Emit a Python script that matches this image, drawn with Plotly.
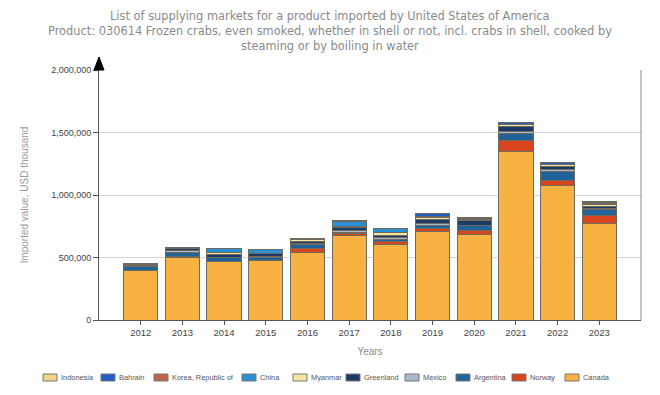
import plotly.graph_objects as go

years = [2012, 2013, 2014, 2015, 2016, 2017, 2018, 2019, 2020, 2021, 2022, 2023]

# Imported value, USD thousand
canada    = [396000, 503000, 468000, 476000, 542000, 674000, 607000, 709000, 688000, 1351000, 1075000, 776000]
norway    = [3000, 2000, 2000, 2000, 32000, 16000, 21000, 27000, 27000, 88000, 40000, 61000]
argentina = [32000, 37000, 27000, 25000, 32000, 14000, 16000, 21000, 40000, 54000, 72000, 48000]
mexico    = [2000, 16000, 3000, 2000, 8000, 13000, 19000, 19000, 5000, 16000, 16000, 10000]
greenland = [15000, 16000, 21000, 28000, 16000, 21000, 16000, 27000, 35000, 40000, 24000, 16000]
myanmar   = [0, 1000, 16000, 1000, 12000, 11000, 19000, 19000, 11000, 12000, 16000, 16000]
china     = [1000, 2000, 32000, 34000, 3000, 40000, 35000, 3000, 3000, 3000, 3000, 3000]
korea     = [0, 0, 0, 0, 1000, 1000, 1000, 1000, 1000, 1000, 1000, 1000]
bahrain   = [1000, 0, 0, 0, 8000, 2000, 0, 24000, 13000, 17000, 13000, 13000]
indonesia = [0, 0, 0, 0, 1000, 1000, 1000, 1000, 1000, 1000, 1000, 1000]

series_names = ["Canada", "Norway", "Argentina", "Mexico", "Greenland",
                "Myanmar", "China", "Korea, Republic of", "Bahrain", "Indonesia"]
series_values = [canada, norway, argentina, mexico, greenland,
                 myanmar, china, korea, bahrain, indonesia]
series_colors = ["#f9b241", "#d9441c", "#1f6399", "#a9b9ca", "#1c3a66",
                 "#f6e6a2", "#2a90d6", "#c0654c", "#1f5ec4", "#efd48a"]

title_lines = [
    "List of supplying markets for a product imported by United States of America",
    "Product: 030614 Frozen crabs, even smoked, whether in shell or not, incl. crabs in shell, cooked by",
    "steaming or by boiling in water",
]

fig = go.Figure()
for name, vals, col in zip(series_names, series_values, series_colors):
    fig.add_trace(go.Bar(
        x=years, y=vals, name=name, width=0.82,
        marker=dict(color=col, line=dict(color="#6f6a60", width=1)),
        showlegend=False,
    ))

W, H = 660, 395
L, R, T, B = 99, 19, 70, 75
PW, PH = W - L - R, H - T - B


def px_x(p):
    return (p - L) / PW


def px_y(p):
    return (H - B - p) / PH


# title lines
for line, ypix in zip(title_lines, [16, 31, 46]):
    fig.add_annotation(xref="paper", yref="paper", x=px_x(330), y=px_y(ypix),
                       text=line, showarrow=False, xanchor="center", yanchor="middle",
                       font=dict(family="DejaVu Sans", size=11.4, color="#8a8a8a"))

# manual legend (order as in the reference)
legend_order = ["Indonesia", "Bahrain", "Korea, Republic of", "China", "Myanmar",
                "Greenland", "Mexico", "Argentina", "Norway", "Canada"]
legend_x = [43, 101, 154, 242, 293, 346, 405, 456, 512, 565]
for name, px in zip(legend_order, legend_x):
    col = series_colors[series_names.index(name)]
    fig.add_shape(type="rect", xref="paper", yref="paper",
                  x0=px_x(px), x1=px_x(px + 14),
                  y0=px_y(381), y1=px_y(374),
                  fillcolor=col, line=dict(color="#777777", width=1))
    fig.add_annotation(xref="paper", yref="paper",
                       x=px_x(px + 16), y=px_y(377.5),
                       text=name, showarrow=False, xanchor="left", yanchor="middle",
                       font=dict(family="Liberation Sans", size=7.4, color="#555555"))

# right border line
fig.add_shape(type="line", xref="paper", yref="paper", x0=1, x1=1, y0=0, y1=1,
              line=dict(color="#8a8a8a", width=1))
# arrow head on top of y axis
fig.add_shape(type="path", xref="paper", yref="paper",
              path="M -0.0092,1.0 L 0.0092,1.0 L 0,1.052 Z",
              fillcolor="#000000", line=dict(color="#000000", width=1))

fig.update_layout(
    width=W, height=H,
    margin=dict(l=L, r=R, t=T, b=B),
    paper_bgcolor="white", plot_bgcolor="white",
    barmode="stack",
    xaxis=dict(
        range=[2011, 2024], tickmode="array", tickvals=years,
        ticktext=[str(y) for y in years],
        showgrid=False, showline=True, linecolor="#555555", linewidth=1,
        ticks="outside", ticklen=4, tickcolor="#555555",
        tickfont=dict(family="Liberation Sans", size=9.5, color="#444444"),
        title=dict(text="Years", font=dict(family="Liberation Sans", size=10, color="#8a8a8a"), standoff=10),
        zeroline=False,
    ),
    yaxis=dict(
        range=[0, 2000000], tickmode="array",
        tickvals=[0, 500000, 1000000, 1500000, 2000000],
        tickformat=",d",
        showgrid=True, gridcolor="#d6d6d6", gridwidth=1,
        showline=True, linecolor="#555555", linewidth=1,
        ticks="outside", ticklen=5, tickcolor="#555555",
        tickfont=dict(family="Liberation Sans", size=9, color="#444444"),
        title=dict(text="Imported value, USD thousand",
                   font=dict(family="Liberation Sans", size=10, color="#9a9a9a"), standoff=20),
        zeroline=False,
    ),
    bargap=0.18,
)

fig.write_html("out.html", config={"displayModeBar": False},
               post_script="document.body.style.margin='0';")
